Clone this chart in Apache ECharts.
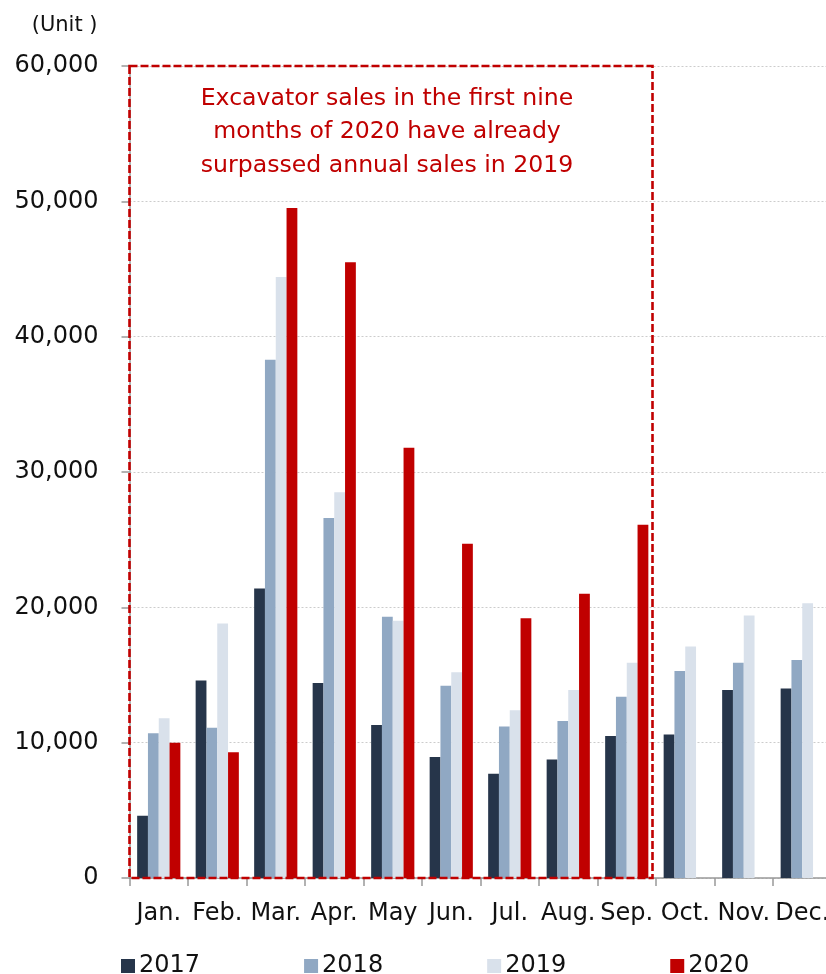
<!DOCTYPE html>
<html>
<head>
<meta charset="utf-8">
<script src="https://cdn.jsdelivr.net/npm/echarts@6/dist/echarts.min.js"></script>
<style>
  html, body { margin: 0; padding: 0; background: #fff; }
  #chart { width: 826px; height: 974px; }
</style>
</head>
<body>
<div id="chart"></div>
<script>
// Monthly excavator sales (units)
const months = ['Jan.', 'Feb.', 'Mar.', 'Apr.', 'May', 'Jun.', 'Jul.', 'Aug.', 'Sep.', 'Oct.', 'Nov.', 'Dec.'];
const sales2017 = [4600, 14600, 21400, 14400, 11300, 8950, 7700, 8750, 10500, 10600, 13900, 14000];
const sales2018 = [10700, 11100, 38300, 26600, 19300, 14200, 11200, 11600, 13400, 15300, 15900, 16100];
const sales2019 = [11800, 18800, 44400, 28500, 19000, 15200, 12400, 13900, 15900, 17100, 19400, 20300];
const sales2020 = [10000, 9300, 49500, 45500, 31800, 24700, 19200, 21000, 26100, null, null, null];
const yearNames = ['2017', '2018', '2019', '2020'];
const yearColors = ['#26354A', '#90A8C3', '#D9E1EB', '#C00000'];
const noteLines = [
  'Excavator sales in the first nine',
  'months of 2020 have already',
  'surpassed annual sales in 2019'
];

const FONT = 'DejaVu Sans';
const chart = echarts.init(document.getElementById('chart'));

const seriesData = [sales2017, sales2018, sales2019, sales2020];

chart.setOption({
  animation: false,
  backgroundColor: '#fff',
  textStyle: { fontFamily: FONT },
  // plot area runs slightly past the right edge of the canvas
  grid: { left: 129.5, width: 702, top: 66, bottom: 96, containLabel: false, outerBoundsMode: 'none' },
  legend: {
    data: yearNames,
    left: 116,
    top: 949,
    icon: 'rect',
    itemWidth: 14,
    itemHeight: 14,
    itemGap: 104,
    itemStyle: { borderWidth: 0 },
    textStyle: { fontFamily: FONT, fontSize: 24, color: '#111', padding: [0, 0, 0, -1] }
  },
  xAxis: {
    type: 'category',
    data: months,
    axisLine: { lineStyle: { color: '#999', width: 1.5 } },
    axisTick: { show: true, length: 8, lineStyle: { color: '#999', width: 1.5 } },
    axisLabel: { fontFamily: FONT, fontSize: 24, color: '#111', margin: 24, interval: 0 }
  },
  yAxis: {
    type: 'value',
    min: 0,
    max: 60000,
    interval: 10000,
    name: '(Unit )',
    nameLocation: 'end',
    nameGap: 30,
    nameTextStyle: { fontFamily: FONT, fontSize: 21, color: '#111', align: 'right', padding: [0, 32, 0, 0] },
    axisLine: { show: true, lineStyle: { color: '#999', width: 1.5 } },
    axisTick: { show: true, length: 8, lineStyle: { color: '#999', width: 1.5 } },
    axisLabel: {
      fontFamily: FONT, fontSize: 24, color: '#111', margin: 31,
      formatter: v => v.toLocaleString('en-US')
    },
    splitLine: { show: true, lineStyle: { color: '#ccc', type: [2, 2], width: 1 } }
  },
  series: yearNames.map((name, i) => ({
    name: name,
    type: 'bar',
    data: seriesData[i],
    barWidth: 10.8,
    barGap: '0%',
    itemStyle: { color: yearColors[i] }
  }))
});

// Dashed highlight box around January–September, with the note inside
function drawNote() {
  const top = chart.convertToPixel({ yAxisIndex: 0 }, 60000);
  const bottom = chart.convertToPixel({ yAxisIndex: 0 }, 0);
  const xJan = chart.convertToPixel({ xAxisIndex: 0 }, 'Jan.');
  const xFeb = chart.convertToPixel({ xAxisIndex: 0 }, 'Feb.');
  const xSep = chart.convertToPixel({ xAxisIndex: 0 }, 'Sep.');
  const xOct = chart.convertToPixel({ xAxisIndex: 0 }, 'Oct.');
  const left = xJan - (xFeb - xJan) / 2;
  const right = (xSep + xOct) / 2 - 3.5;
  chart.setOption({
    graphic: [
      {
        type: 'rect',
        shape: { x: left, y: top, width: right - left, height: bottom - top },
        style: { fill: null, stroke: '#C00000', lineWidth: 2.6, lineDash: [8, 3] },
        z: 100
      },
      {
        type: 'text',
        x: (left + right) / 2 - 4,
        y: top + 16,
        style: {
          text: noteLines.join('\n'),
          fontFamily: FONT,
          fontSize: 23.6,
          lineHeight: 33.5,
          fill: '#C00000',
          align: 'center',
          verticalAlign: 'top'
        },
        z: 100
      }
    ]
  });
}
drawNote();
</script>
</body>
</html>
